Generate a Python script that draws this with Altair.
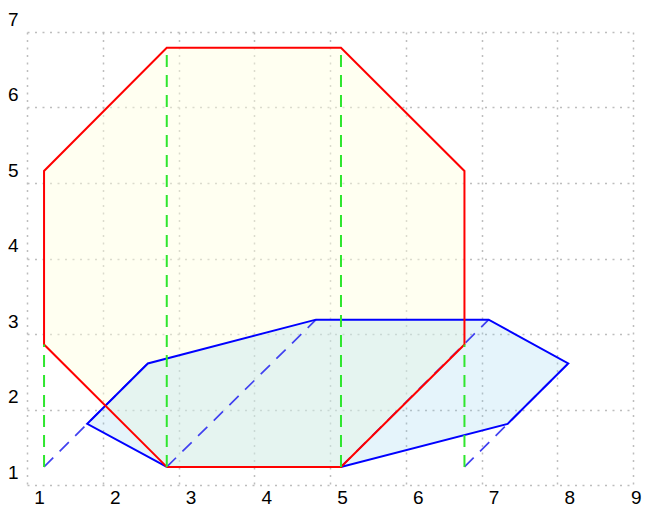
import altair as alt
import pandas as pd

# Octagon (red) vertices, closed
oct_x = [2.62, 4.92, 6.55, 6.55, 4.92, 2.62, 1.0, 1.0, 2.62]
oct_y = [1.0, 1.0, 2.62, 4.92, 6.55, 6.55, 4.92, 2.62, 1.0]

# Projected octagon (blue) vertices, closed
blue_x = [2.62, 4.92, 7.12, 7.92, 6.87, 4.59, 2.37, 1.57, 2.62]
blue_y = [1.0, 1.0, 1.57, 2.37, 2.95, 2.95, 2.37, 1.57, 1.0]

# Green dashed verticals
green_x = [1.0, 2.62, 4.92, 6.55]
green_y0 = [1.0, 1.0, 1.0, 1.0]
green_y1 = [2.62, 6.55, 6.55, 2.62]

# Blue dashed projection lines
bd_x0 = [1.0, 2.62, 4.92, 6.55]
bd_y0 = [1.0, 1.0, 1.0, 1.0]
bd_x1 = [2.37, 4.59, 6.87, 7.92]
bd_y1 = [2.37, 2.95, 2.95, 2.37]

# Grid positions and domains
grid_x = [0.775, 1.775, 2.775, 3.775, 4.775, 5.775, 6.775, 7.775, 8.775]
grid_y = [0.76, 1.76, 2.76, 3.76, 4.76, 5.76, 6.76]

red_df = pd.DataFrame({"x": oct_x, "y": oct_y, "i": list(range(len(oct_x)))})
blue_df = pd.DataFrame({"x": blue_x, "y": blue_y, "i": list(range(len(blue_x)))})
green_df = pd.DataFrame({"x": green_x, "y": green_y0, "y2": green_y1})
bd_df = pd.DataFrame({"x": bd_x0, "y": bd_y0, "x2": bd_x1, "y2": bd_y1})

FONT = "Liberation Sans"

x_axis = alt.Axis(
    values=grid_x, grid=True, gridDash=[2, 5.5], gridColor="#bdbdbd", gridWidth=1.5,
    domain=False, ticks=False, labelExpr="round(datum.value)", labelFlush=False,
    labelOffset=alt.condition("datum.value > 8", alt.value(8), alt.value(12)),
    labelPadding=18, labelBaseline="alphabetic",
    labelFontSize=19, labelFont=FONT, labelColor="black",
    labelAlign=alt.condition("datum.value > 8", alt.value("right"), alt.value("center")),
    title=None,
)
y_axis = alt.Axis(
    values=grid_y, grid=True, gridDash=[2, 5.5], gridColor="#bdbdbd", gridWidth=1.5,
    domain=False, ticks=False, labelExpr="round(datum.value)", labelFlush=False,
    labelOffset=-13, labelPadding=9, labelFontSize=19, labelFont=FONT, labelColor="black",
    title=None,
)
xs = alt.Scale(domain=[grid_x[0], grid_x[-1]], nice=False, zero=False)
ys = alt.Scale(domain=[grid_y[0], grid_y[-1]], nice=False, zero=False)


def X(f="x"):
    return alt.X(f"{f}:Q", scale=xs, axis=x_axis)


def Y(f="y"):
    return alt.Y(f"{f}:Q", scale=ys, axis=y_axis)


red_fill = alt.Chart(red_df).mark_line(
    fill="#ffffe0", fillOpacity=0.45, strokeWidth=0
).encode(x=X(), y=Y(), order="i:Q")

blue_fill = alt.Chart(blue_df).mark_line(
    fill="#87ceeb", fillOpacity=0.22, strokeWidth=0
).encode(x=X(), y=Y(), order="i:Q")

blue_dash = alt.Chart(bd_df).mark_rule(
    color="#4040f0", strokeWidth=1.7, strokeDash=[13, 9]
).encode(x=X(), y=Y(), x2="x2:Q", y2="y2:Q")

blue_line = alt.Chart(blue_df).mark_line(
    color="#0000ff", strokeWidth=2, strokeJoin="miter"
).encode(x=X(), y=Y(), order="i:Q")

red_line = alt.Chart(red_df).mark_line(
    color="#ff0000", strokeWidth=2, strokeJoin="miter"
).encode(x=X(), y=Y(), order="i:Q")

green = alt.Chart(green_df).mark_rule(
    color="#2ee62e", strokeWidth=2, strokeDash=[12, 8]
).encode(x=X(), y=Y(), y2="y2:Q")

chart = alt.layer(
    red_fill, blue_fill, blue_dash, blue_line, red_line, green
).properties(
    width=606, height=453, autosize="none",
    padding={"left": 19, "top": 24, "right": 9, "bottom": 19},
    background="white",
).configure_view(stroke=None)

chart.save("out.html", embed_options={"renderer": "svg", "actions": False})
